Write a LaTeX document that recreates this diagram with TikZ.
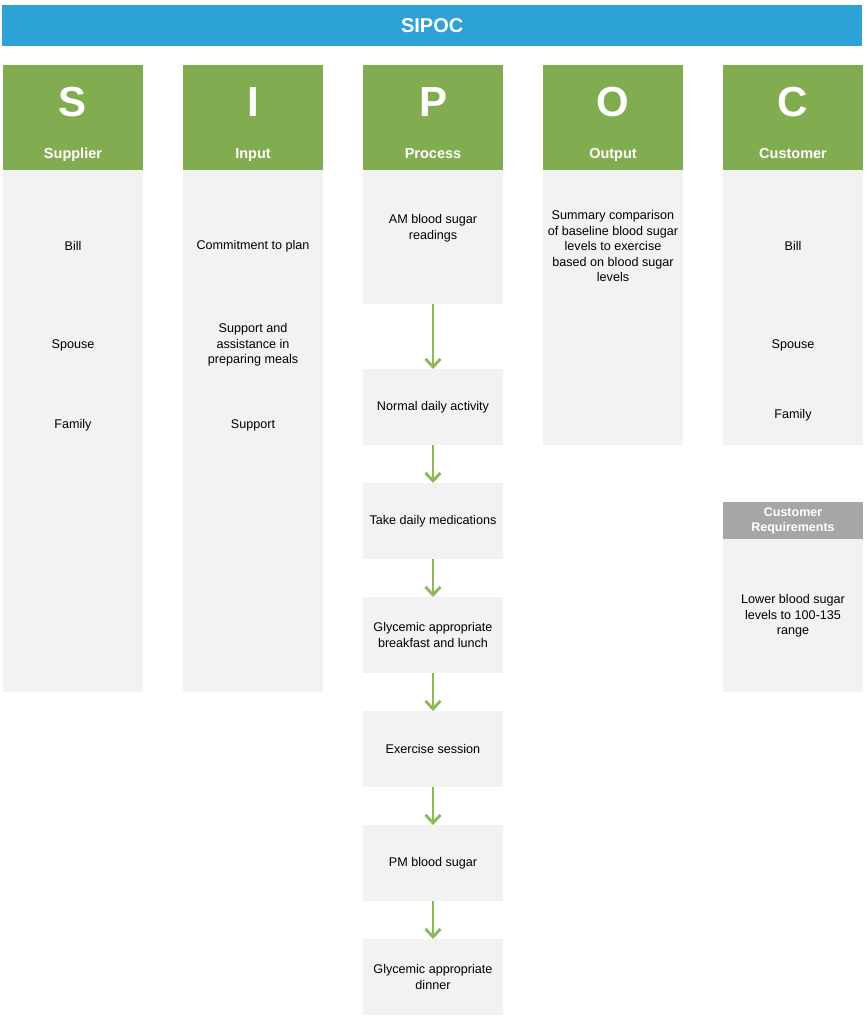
\documentclass[tikz,border=0pt]{standalone}
\usepackage{fontspec}
\setmainfont{Liberation Sans}
\usetikzlibrary{arrows.meta}
\definecolor{sblue}{HTML}{2DA2D4}
\definecolor{sgreen}{HTML}{82AC50}
\definecolor{sgray}{HTML}{F2F2F2}
\definecolor{hgray}{HTML}{A6A6A6}
\definecolor{agreen}{HTML}{8DB95C}
\begin{document}
\begin{tikzpicture}[x=1pt,y=-1pt,
  box/.style={fill=sgray,draw=none,minimum width=140pt,inner sep=0pt,outer sep=0pt,anchor=north},
  head/.style={fill=sgreen,draw=none,minimum width=140pt,minimum height=105pt,inner sep=0pt,anchor=north},
  big/.style={text=white,anchor=base,inner sep=0pt,font=\fontsize{42}{42}\selectfont\bfseries},
  sub/.style={text=white,anchor=base,inner sep=0pt,font=\fontsize{14.5}{16}\selectfont\bfseries},
  txt/.style={align=center,font=\fontsize{12.6}{15.5}\selectfont,text=black},
  flow/.style={draw=agreen,line width=2.2pt,-{Straight Barb[length=8pt,width=15pt,line width=0pt 1.3]}}
]
\useasboundingbox (0,0) rectangle (867,1024);
% title
\node[fill=sblue,minimum width=860pt,minimum height=41pt,inner sep=0pt,anchor=north west,text=white,font=\fontsize{20}{20}\selectfont\bfseries] (title) at (2,5) {SIPOC};
% headers
\foreach \n/\x/\L/\W in {s/73/S/Supplier,i/253/I/Input,p/433/P/Process,o/613/O/Output,c/793/C/Customer}{
  \node[head] (h\n) at (\x,65) {};
  \node[big] (l\n) at (\x,117) {\L};
  \node[sub] (w\n) at (\x,159) {\W};
}
% gray columns
\node[box,minimum height=522pt] (gs) at (73,170) {};
\node[box,minimum height=522pt] (gi) at (253,170) {};
\node[box,minimum height=275pt] (go) at (613,170) {};
\node[box,minimum height=275pt] (gc) at (793,170) {};
% supplier
\node[txt] (s1) at (73,246) {Bill};
\node[txt] (s2) at (73,345) {Spouse};
\node[txt] (s3) at (73,425) {Family};
% input
\node[txt] (i1) at (253,246) {Commitment to plan};
\node[txt] (i2) at (253,345) {Support and\\assistance in\\preparing meals};
\node[txt] (i3) at (253,425) {Support};
% output
\node[txt] (o1) at (613,246) {Summary comparison\\of baseline blood sugar\\levels to exercise\\based on blood sugar\\levels};
% customer
\node[txt] (c1) at (793,246) {Bill};
\node[txt] (c2) at (793,345) {Spouse};
\node[txt] (c3) at (793,415) {Family};
\node[fill=hgray,minimum width=140pt,minimum height=37pt,inner sep=0pt,anchor=north,align=center,text=white,font=\fontsize{12.5}{15}\selectfont\bfseries] (cr) at (793,502) {Customer\\Requirements};
\node[box,minimum height=153pt] (gcr) at (793,539) {};
\node[txt] (c4) at (793,616) {Lower blood sugar\\levels to 100-135\\range};
% process
\node[box,minimum height=134pt] (p1) at (433,170) {};
\node[txt] at (433,228) {AM blood sugar\\readings};
\node[box,minimum height=76pt,txt] (p2) at (433,369) {Normal daily activity};
\node[box,minimum height=76pt,txt] (p3) at (433,483) {Take daily medications};
\node[box,minimum height=76pt,txt] (p4) at (433,597) {Glycemic appropriate\\breakfast and lunch};
\node[box,minimum height=76pt,txt] (p5) at (433,711) {Exercise session};
\node[box,minimum height=76pt,txt] (p6) at (433,825) {PM blood sugar};
\node[box,minimum height=76pt,txt] (p7) at (433,939) {Glycemic appropriate\\dinner};
\foreach \a/\b in {p1/p2,p2/p3,p3/p4,p4/p5,p5/p6,p6/p7}{
  \draw[flow] (\a.south) -- (\b.north);
}
\end{tikzpicture}
\end{document}
